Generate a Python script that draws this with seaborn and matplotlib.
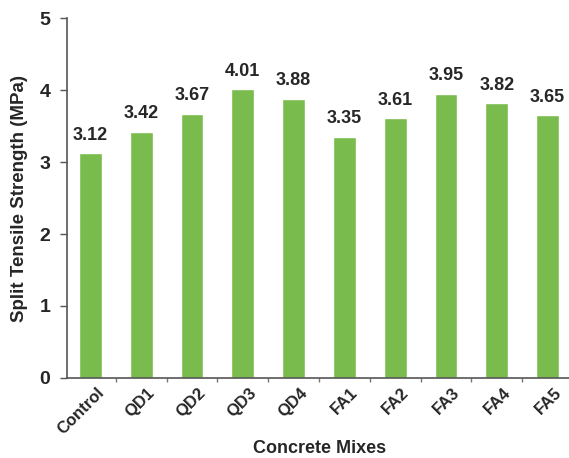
import numpy as np
import pandas as pd
import seaborn as sns
import matplotlib.pyplot as plt
from matplotlib.transforms import ScaledTranslation

# split tensile strength per mix
mixes = ['Control', 'QD1', 'QD2', 'QD3', 'QD4', 'FA1', 'FA2', 'FA3', 'FA4', 'FA5']
strength = [3.12, 3.42, 3.67, 4.01, 3.88, 3.35, 3.61, 3.95, 3.82, 3.65]

df = pd.DataFrame({'mix': mixes, 'strength': strength})

sns.set_style('white')
plt.rcParams['font.family'] = ['Liberation Sans', 'DejaVu Sans']

fig = plt.figure(figsize=(5.69, 4.58), dpi=100)
ax = fig.add_axes([67 / 569, 1 - 378 / 458, 506 / 569, 360 / 458])

sns.barplot(data=df, x='mix', y='strength', color='#79bb4c', saturation=1,
            width=0.45, ax=ax)

for i, v in enumerate(strength):
    ax.text(i, v + 0.13, '{:.2f}'.format(v), ha='center', va='bottom',
            fontsize=13, fontweight='bold')

ax.set_ylim(0, 5)
ax.set_xlim(-0.46, 9.5)
ax.set_yticks([0, 1, 2, 3, 4, 5])
ax.set_xticks(np.arange(len(mixes)) + 0.5, minor=True)

for s in ['top', 'right']:
    ax.spines[s].set_visible(False)
for s in ['left', 'bottom']:
    ax.spines[s].set_color('#555555')
    ax.spines[s].set_linewidth(1.2)

ax.tick_params(axis='y', which='major', direction='out', length=5, width=1,
               color='#555555', labelsize=14, pad=7, left=True)
ax.tick_params(axis='x', which='major', length=0, labelsize=12, pad=5)
ax.tick_params(axis='x', which='minor', direction='out', length=3, width=1,
               color='#777777', bottom=True)
shift = ScaledTranslation(6 / 100, 0, fig.dpi_scale_trans)
for lab in ax.get_yticklabels():
    lab.set_fontweight('bold')
for lab in ax.get_xticklabels():
    lab.set_fontweight('bold')
    lab.set_rotation(45)
    lab.set_ha('right')
    lab.set_rotation_mode('anchor')
    lab.set_transform(lab.get_transform() + shift)

ax.set_ylabel('Split Tensile Strength (MPa)', fontsize=13.5, fontweight='bold',
              labelpad=8)
ax.set_xlabel('Concrete Mixes', fontsize=13, fontweight='bold', labelpad=2)

fig.savefig('out.png', dpi=100)
